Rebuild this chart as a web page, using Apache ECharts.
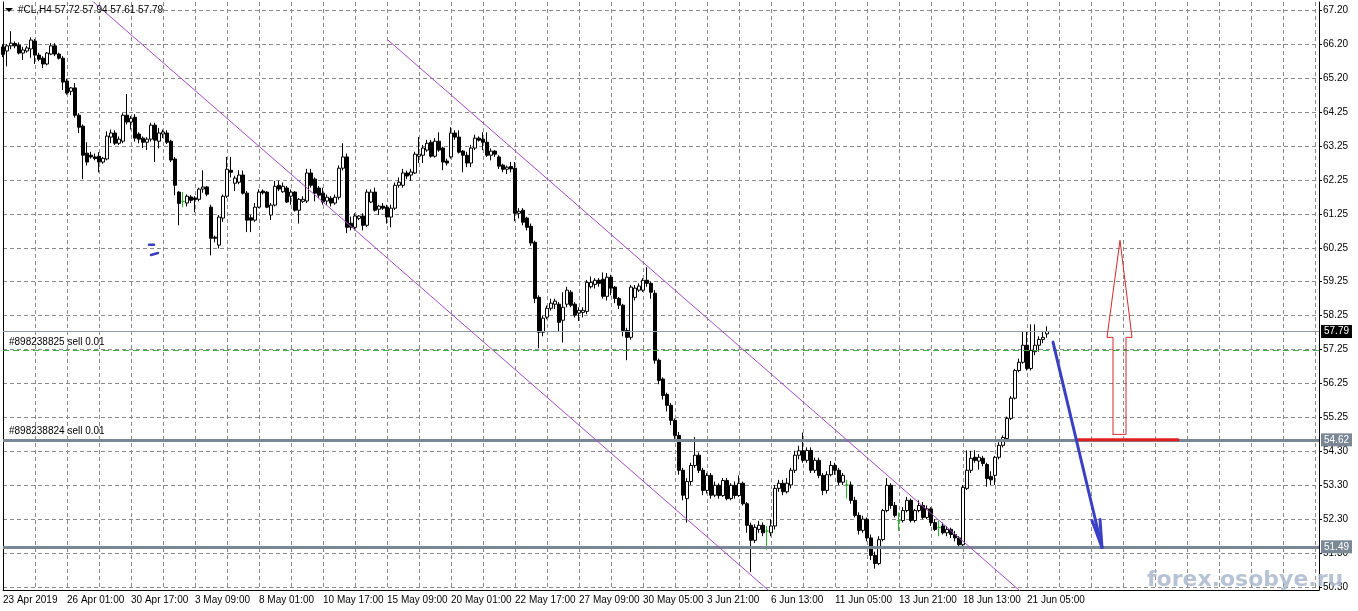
<!DOCTYPE html>
<html><head><meta charset="utf-8">
<script src="https://cdn.jsdelivr.net/npm/echarts@6/dist/echarts.min.js"></script>
<style>html,body{margin:0;padding:0;background:#fff}#c{width:1358px;height:611px}</style>
</head><body><div id="c"></div>
<script>
const symbolName = "#CL,H4";
const timeLabels = ["23 Apr 2019","26 Apr 01:00","30 Apr 17:00","3 May 09:00","8 May 01:00","10 May 17:00","15 May 09:00","20 May 01:00","22 May 17:00","27 May 09:00","30 May 05:00","3 Jun 21:00","6 Jun 13:00","11 Jun 05:00","13 Jun 21:00","18 Jun 13:00","21 Jun 05:00"];
const priceTickLabels = ["67.20","66.20","65.20","64.25","63.25","62.25","61.25","60.25","59.25","58.25","57.25","56.25","55.25","54.30","53.30","52.30","51.30","50.30"];

const open = [
66.12,66.00,66.15,66.22,66.17,65.94,66.00,66.06,66.29,65.88,
65.79,65.62,65.91,66.15,65.91,65.79,65.12,64.82,64.92,64.12,
63.80,63.01,62.95,62.90,62.92,62.75,62.84,63.48,63.60,63.30,
63.36,64.12,63.92,64.06,63.57,63.45,63.33,63.42,63.83,63.36,
63.57,63.60,63.36,62.84,61.87,61.60,61.55,61.73,61.70,61.66,
61.96,62.02,61.43,60.55,60.32,61.11,61.75,62.51,62.13,62.16,
62.37,61.84,61.12,61.05,61.43,61.90,61.87,61.20,61.49,62.07,
61.88,61.99,61.75,61.87,61.34,61.60,61.61,62.43,62.25,61.99,
61.84,61.61,61.69,61.55,61.72,62.57,62.90,60.96,60.84,61.10,
61.17,60.90,61.58,61.87,61.37,61.46,61.43,61.14,61.40,62.07,
62.07,62.43,62.37,62.43,62.92,62.95,63.10,63.33,62.92,63.36,
63.16,62.78,62.90,63.60,63.48,63.07,62.95,62.72,63.16,63.45,
63.42,63.33,62.95,63.07,62.90,62.66,62.54,62.62,62.57,61.25,
61.34,61.11,60.87,60.40,58.79,57.77,58.21,58.47,58.59,58.59,
58.12,58.59,58.94,58.59,58.33,58.35,58.38,59.10,59.17,59.29,
59.32,58.82,59.38,59.09,58.76,58.56,57.82,57.62,58.79,59.00,
59.00,59.29,59.20,58.91,56.95,56.40,55.95,55.63,55.19,54.75,
53.73,52.90,53.40,53.87,54.17,53.73,53.14,53.58,53.00,53.29,
52.99,53.43,52.90,53.29,52.99,53.35,52.75,52.12,51.68,52.00,
52.12,51.95,51.90,52.10,53.20,53.35,53.10,53.30,53.73,54.17,
54.30,54.02,54.31,53.73,54.02,53.58,53.14,53.60,53.87,53.73,
53.38,53.30,53.30,52.85,52.41,51.97,52.30,51.75,51.24,51.00,
51.70,52.55,53.29,52.70,52.26,52.26,52.55,52.85,52.26,52.55,
52.70,52.35,52.60,52.20,52.05,52.10,51.90,52.00,51.85,51.75,
51.55,53.20,53.73,54.11,54.00,54.08,53.90,53.55,53.58,54.11,
54.46,54.66,55.25,55.84,56.65,56.89,57.39,56.71,57.20,57.39,
57.56,57.72];
const high = [
66.20,66.20,66.58,66.28,66.25,66.12,66.15,66.40,66.35,65.95,
65.85,65.97,66.23,66.23,65.95,65.85,65.18,64.95,65.06,64.18,
63.85,63.33,63.05,63.00,63.04,62.90,63.65,63.70,63.68,63.50,
64.18,64.74,64.10,64.15,63.62,63.50,63.48,63.90,63.90,63.75,
63.70,63.68,63.40,62.90,61.90,61.87,61.80,61.78,61.75,62.00,
62.51,62.05,61.50,60.60,61.20,61.80,62.90,62.90,62.35,62.51,
62.50,61.90,61.20,61.55,61.95,61.95,61.90,61.55,62.20,62.20,
62.15,62.05,61.95,61.90,61.70,61.75,62.55,62.55,62.30,62.05,
62.00,61.80,61.75,61.80,62.65,63.30,63.00,61.15,61.25,61.20,
61.25,61.95,61.95,62.00,61.50,61.55,61.50,61.50,62.15,62.30,
62.55,62.50,62.55,63.05,63.48,63.25,63.40,63.40,63.45,63.62,
63.20,62.85,63.77,63.68,63.68,63.10,63.05,63.25,63.55,63.50,
63.62,63.62,63.15,63.10,62.95,62.70,62.65,62.75,62.75,61.40,
61.40,61.15,60.95,60.45,58.85,58.25,58.55,58.75,58.75,58.65,
58.94,59.10,59.00,58.65,58.50,58.50,59.30,59.40,59.35,59.35,
59.52,59.50,59.45,59.12,58.80,58.60,57.90,59.15,59.15,59.20,
59.35,59.67,59.25,59.00,57.00,56.45,56.00,55.70,55.25,54.85,
53.80,53.50,53.95,54.70,54.25,53.80,53.65,53.65,53.40,53.35,
53.50,53.50,53.35,53.40,53.58,53.40,52.80,52.20,52.15,52.25,
52.20,52.10,52.30,53.30,53.45,53.45,53.50,53.80,54.30,54.45,
54.83,54.40,54.40,54.10,54.10,53.65,53.70,54.00,53.95,53.80,
53.65,53.45,53.40,52.95,52.50,52.40,52.35,51.85,51.35,51.80,
52.60,53.50,53.35,52.80,52.50,52.65,52.95,52.90,52.60,52.85,
52.80,52.70,52.65,52.30,52.25,52.20,52.10,52.05,51.95,51.80,
53.30,54.31,54.30,54.32,54.20,54.15,53.95,53.70,54.15,54.55,
54.75,55.30,55.90,56.70,57.00,57.80,57.80,58.00,58.00,57.65,
57.78,57.94];
const low = [
65.82,65.55,66.05,66.08,65.90,65.74,65.95,65.80,65.62,65.70,
65.50,65.58,65.88,65.85,65.75,64.86,64.72,64.71,64.05,63.60,
62.25,62.65,62.85,62.80,62.45,62.70,62.80,63.30,63.25,63.25,
63.30,63.85,63.70,63.35,63.30,63.16,63.10,63.35,62.75,63.15,
63.45,63.28,62.75,61.78,60.90,61.43,61.45,61.55,61.28,61.60,
61.85,61.75,60.02,60.40,60.22,61.00,61.70,62.30,61.90,62.10,
61.80,60.70,60.70,61.00,61.40,61.80,61.40,61.05,61.45,61.90,
61.85,61.55,61.50,61.30,60.95,61.55,61.55,62.00,61.60,61.70,
61.50,61.50,61.45,61.50,61.65,62.50,60.67,60.75,60.75,61.05,
60.75,60.85,61.55,61.30,61.20,61.35,60.95,60.84,61.35,62.00,
62.00,62.25,62.20,62.40,62.72,62.72,63.05,62.88,62.88,63.05,
62.51,62.65,62.85,63.40,63.00,62.45,62.60,62.60,63.10,63.35,
63.10,62.90,62.80,62.90,62.55,62.45,62.40,62.45,61.02,61.10,
60.90,60.75,60.30,58.62,57.30,57.65,58.15,58.40,58.45,57.80,
57.47,58.50,58.50,58.20,58.10,58.20,58.30,59.05,59.05,59.10,
58.75,58.70,58.85,58.62,58.45,57.65,56.95,57.55,58.70,58.95,
58.95,59.10,58.75,56.85,56.25,55.80,55.45,55.05,54.65,53.60,
52.85,52.20,53.30,53.80,53.65,53.00,53.05,52.90,52.95,52.90,
52.95,52.85,52.85,52.90,52.95,52.70,51.90,50.75,51.60,51.90,
51.80,51.40,51.80,52.00,53.10,53.00,53.05,53.20,53.65,54.05,
53.95,53.95,53.65,53.65,53.50,53.00,53.05,53.55,53.60,53.30,
53.30,52.90,52.75,52.35,51.85,51.90,51.65,51.10,50.85,50.95,
51.65,52.50,52.60,52.35,51.95,52.20,52.50,52.20,52.20,52.50,
52.30,52.30,52.10,51.95,51.80,51.85,51.80,51.75,51.65,51.50,
51.50,53.15,53.65,53.95,53.75,53.85,53.25,53.30,53.30,54.05,
54.40,54.60,55.20,55.80,56.60,56.85,56.65,56.65,57.10,57.20,
57.45,57.61];
const close = [
65.90,66.15,66.23,66.15,65.94,66.03,66.09,66.32,65.88,65.76,
65.62,65.94,66.15,65.91,65.79,65.09,64.77,64.92,64.12,63.77,
62.95,62.75,62.90,62.85,62.75,62.86,63.51,63.60,63.30,63.42,
64.12,63.92,64.03,63.45,63.42,63.33,63.42,63.83,63.39,63.60,
63.63,63.33,62.81,62.07,61.54,61.60,61.75,61.63,61.65,61.96,
62.02,61.81,60.52,60.52,61.14,61.75,62.54,62.45,62.28,62.37,
61.84,61.05,61.05,61.43,61.87,61.85,61.43,61.49,62.04,61.96,
62.04,61.58,61.87,61.34,61.66,61.66,62.43,62.07,61.84,61.78,
61.58,61.72,61.55,61.72,62.57,62.90,60.84,60.84,61.17,61.17,
60.90,61.87,61.87,61.34,61.46,61.40,61.14,61.40,62.07,62.16,
62.43,62.34,62.46,62.98,62.98,63.16,63.30,62.92,63.36,63.10,
62.75,62.72,63.60,63.48,63.04,62.95,62.72,63.16,63.45,63.39,
63.33,62.95,63.07,62.98,62.63,62.54,62.60,62.55,61.25,61.31,
60.99,60.84,60.38,58.76,57.77,58.18,58.47,58.62,58.68,58.06,
58.50,59.00,58.56,58.27,58.41,58.41,59.23,59.23,59.29,59.20,
58.82,59.38,59.06,58.76,58.56,57.82,57.62,59.09,59.06,59.12,
59.29,59.20,58.94,56.95,56.36,55.92,55.63,55.19,54.75,53.73,
53.00,53.40,53.87,54.17,53.73,53.14,53.58,53.00,53.29,52.99,
53.43,52.90,53.29,52.99,53.35,52.75,52.12,51.68,52.06,52.12,
51.90,51.95,52.10,53.20,53.35,53.10,53.35,53.73,54.17,54.30,
54.02,54.31,53.73,54.02,53.58,53.14,53.60,53.87,53.73,53.38,
53.58,53.30,52.85,52.41,51.97,52.30,51.75,51.24,51.00,51.70,
52.55,53.29,52.70,52.41,52.26,52.55,52.85,52.26,52.55,52.70,
52.35,52.60,52.20,52.00,52.05,51.90,52.00,51.85,51.75,51.55,
53.23,53.73,54.08,54.02,54.11,53.93,53.49,53.45,54.11,54.46,
54.69,55.25,55.84,56.65,56.89,57.39,56.71,57.24,57.39,57.56,
57.62,57.79];

// horizontal levels
const bidPrice = 57.79;
const order1 = {text: "#898238825 sell 0.01", price: 57.25};
const order2 = {text: "#898238824 sell 0.01", price: 54.62};
const supportPrice = 51.49;

// drawn objects: [barIndex, price]
const channelLower = [[21, 67.60], [193, 50.05]];
const channelUpper = [[96.25, 66.32], [256, 50.02]];
const blueArrowShaft = [[262.5, 57.48], [274.75, 51.47]];
const blueArrowHead = [[272.25, 52.26], [274.75, 51.47], [274.25, 52.29]];
const redLevel = [[268.75, 54.62], [293.75, 54.62]];
const redArrow = [[277.5, 54.78], [280.75, 54.78], [280.75, 57.62], [282.25, 57.62], [279.25, 60.46], [276.0, 57.62], [277.5, 57.62], [277.5, 54.78]];
const blueMark1 = [[36.5, 60.33], [37.75, 60.33]];
const blueMark2 = [[37.0, 60.03], [38.75, 60.09]];

const TOTAL_SLOTS = 330;
const Y_MAX = 67.434, Y_MIN = 50.226;
const gridLevels = priceTickLabels.map((s, i) => 67.20 - i * (67.20 - 50.30) / (priceTickLabels.length - 1));

const FONT = 'Liberation Sans';
const DOJI = '#22b822';
const GRAYLINE = '#7a8896';

const categories = Array.from({length: TOTAL_SLOTS}, (_, i) => String(i));
const candleData = open.map((o, i) => {
  const item = {value: [o, close[i], low[i], high[i]]};
  if (o === close[i]) item.itemStyle = {color: DOJI, color0: DOJI, borderColor: DOJI, borderColor0: DOJI};
  return item;
});

function lineSeries(data, color, width, type) {
  return {type: 'line', xAxisIndex: 1, yAxisIndex: 0, data: data, symbol: 'none', silent: true,
    animation: false, clip: true, z: 5,
    lineStyle: {color: color, width: width, type: type || 'solid', cap: 'round', join: 'round'}};
}

const last = open.length - 1;
const headerText = symbolName + " " + [open[last], high[last], low[last], close[last]].map(v => v.toFixed(2)).join(" ");

const chart = echarts.init(document.getElementById('c'), null, {renderer: 'canvas'});
chart.setOption({
  animation: false,
  backgroundColor: '#ffffff',
  grid: {left: 3, right: 39, top: 2, bottom: 21, containLabel: false},
  xAxis: [{
    type: 'category', data: categories, boundaryGap: false,
    axisLine: {show: true, lineStyle: {color: '#000', width: 1}},
    axisTick: {show: false},
    axisLabel: {interval: 15, align: 'left', margin: 5, fontSize: 10, fontFamily: FONT, color: '#000',
      formatter: (v, idx) => (idx % 16 === 0 && timeLabels[idx / 16]) ? timeLabels[idx / 16] : ''},
    splitLine: {show: true, interval: 7, lineStyle: {color: '#8a8a8a', width: 1, type: [4, 3]}}
  }, {
    type: 'value', min: 0, max: TOTAL_SLOTS - 1, show: false
  }],
  yAxis: [{
    type: 'value', position: 'right', min: Y_MIN, max: Y_MAX, scale: true,
    axisLine: {show: true, onZero: false, lineStyle: {color: '#000', width: 1}},
    axisTick: {show: true, length: 3, inside: false, customValues: gridLevels, lineStyle: {color: '#000'}},
    axisLabel: {show: true, customValues: gridLevels, margin: 4, fontSize: 10, fontFamily: FONT, color: '#000',
      formatter: v => {
        let best = 0, d = 1e9;
        gridLevels.forEach((g, i) => { if (Math.abs(g - v) < d) { d = Math.abs(g - v); best = i; } });
        return priceTickLabels[best];
      }},
    splitLine: {show: true, lineStyle: {color: '#8a8a8a', width: 1, type: [4, 3]}}
  }, {
    type: 'value', position: 'left', min: Y_MIN, max: Y_MAX,
    axisLine: {show: true, onZero: false, lineStyle: {color: '#000', width: 1}},
    axisTick: {show: false}, axisLabel: {show: false}, splitLine: {show: false}
  }],
  series: [
    {
      type: 'candlestick', xAxisIndex: 0, yAxisIndex: 0, data: candleData, barWidth: 3, z: 3,
      itemStyle: {color: '#ffffff', color0: '#000000', borderColor: '#000000', borderColor0: '#000000', borderWidth: 1},
      markLine: {
        silent: true, symbol: 'none', animation: false, precision: 2,
        data: [
          {yAxis: bidPrice, lineStyle: {color: '#8f9aa3', width: 1, type: 'solid'},
            label: {show: true, position: 'end', distance: 2, formatter: bidPrice.toFixed(2), color: '#fff',
              backgroundColor: '#000', padding: [2, 3, 1, 3], fontSize: 10, fontFamily: FONT}},
          {yAxis: order1.price, lineStyle: {color: '#3cb043', width: 1, type: [6, 4]},
            label: {show: true, position: 'insideStartTop', distance: [6, 3], formatter: order1.text, color: '#000',
              fontSize: 10, fontFamily: FONT}},
          {yAxis: order2.price, lineStyle: {color: GRAYLINE, width: 3, type: 'solid'},
            label: {show: true, position: 'end', distance: 2, formatter: order2.price.toFixed(2), color: '#fff',
              backgroundColor: GRAYLINE, padding: [2, 3, 1, 3], fontSize: 10, fontFamily: FONT}},
          {yAxis: order2.price, lineStyle: {color: GRAYLINE, width: 0.01, type: 'solid'},
            label: {show: true, position: 'insideStartTop', distance: [6, 4], formatter: order2.text, color: '#000',
              fontSize: 10, fontFamily: FONT}},
          {yAxis: supportPrice, lineStyle: {color: GRAYLINE, width: 3, type: 'solid'},
            label: {show: true, position: 'end', distance: 2, formatter: supportPrice.toFixed(2), color: '#fff',
              backgroundColor: GRAYLINE, padding: [2, 3, 1, 3], fontSize: 10, fontFamily: FONT}}
        ]
      }
    },
    lineSeries(channelLower, '#a448c8', 1),
    lineSeries(channelUpper, '#a448c8', 1),
    lineSeries(redLevel, '#e02020', 3),
    lineSeries(redArrow, '#d42a2a', 1),
    lineSeries(blueArrowShaft, '#3a40c4', 3),
    lineSeries(blueArrowHead, '#3a40c4', 3),
    lineSeries(blueMark1, '#3a40c4', 2.5),
    lineSeries(blueMark2, '#3a40c4', 2.5)
  ],
  graphic: [
    {type: 'polygon', left: 5, top: 8, shape: {points: [[0, 0], [8, 0], [4, 4]]}, style: {fill: '#000'}, z: 20},
    {type: 'text', left: 18, top: 5, style: {text: headerText, fill: '#000', font: '10px ' + FONT}, z: 20},
    {type: 'text', left: 1147, top: 569, style: {text: 'forex.osobye.ru', fill: 'rgba(170,184,204,0.85)', font: 'bold 22px DejaVu Sans'}, z: 30}
  ]
});
</script></body></html>
